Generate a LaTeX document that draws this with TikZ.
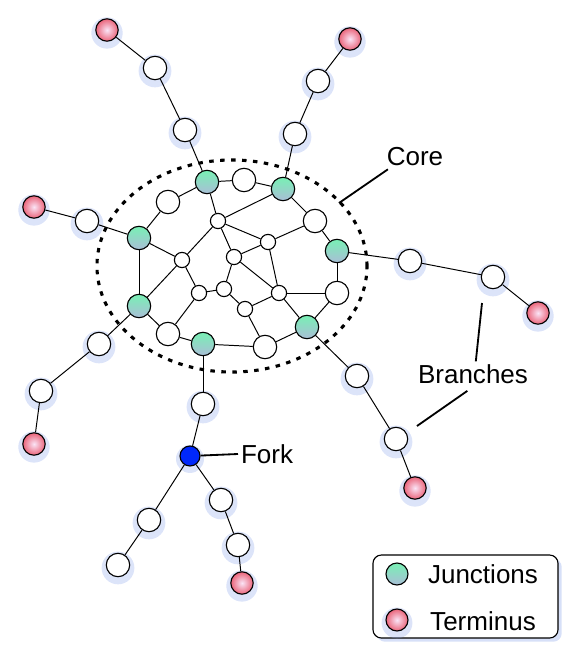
\documentclass[tikz,border=0pt]{standalone}
\usepackage{fontspec}
\setmainfont{Liberation Sans}
\usetikzlibrary{shadows}
\definecolor{junctop}{RGB}{120,240,180}
\definecolor{juncbot}{RGB}{170,190,215}
\definecolor{termin}{RGB}{250,228,246}
\definecolor{termout}{RGB}{234,100,122}
\definecolor{forkblue}{RGB}{0,40,250}
\definecolor{glowblue}{RGB}{140,165,235}

\tikzset{
  vertex/.style={circle, draw=black, line width=0.8pt, fill=white,
    minimum size=0.585cm, inner sep=0pt},
  smallvertex/.style={vertex, minimum size=0.38cm},
  glow/.style={general shadow={shadow scale=1.4, shadow yshift=-1.5pt,
    fill=glowblue, opacity=0.3}},
  junction/.style={vertex, top color=junctop, bottom color=juncbot},
  terminus/.style={vertex, minimum size=0.56cm, inner color=termin,
    outer color=termout, glow},
  branchnode/.style={vertex, glow},
  forknode/.style={vertex, minimum size=0.5cm, fill=forkblue, glow},
  link/.style={line width=0.7pt},
  pointer/.style={line width=1.3pt},
  coredots/.style={line width=2.2pt, dash pattern=on 3.2pt off 4.6pt},
  callout/.style={font=\fontsize{18.5}{22}\selectfont, inner sep=2pt},
  legendbox/.style={draw, line width=0.8pt, fill=white, rounded corners=6pt,
    minimum width=4.625cm, minimum height=2.075cm,
    drop shadow={opacity=0.35, fill=glowblue}}
}

\begin{document}
\begin{tikzpicture}[x=0.025cm, y=-0.025cm]
  \useasboundingbox (0,0) rectangle (581,667);

  % core: junctions
  \node[junction] (j1) at (207,182) {};
  \node[junction] (j2) at (283,189) {};
  \node[junction] (j3) at (139,238) {};
  \node[junction] (j4) at (337,251) {};
  \node[junction] (j5) at (139,306) {};
  \node[junction] (j6) at (307,327) {};
  \node[junction] (j7) at (203,344) {};

  % core: plain nodes
  \node[vertex] (w1) at (244,180) {};
  \node[vertex] (w2) at (168,202) {};
  \node[vertex] (w3) at (315,221) {};
  \node[vertex] (w4) at (337,293) {};
  \node[vertex] (w5) at (168,334) {};
  \node[vertex] (w6) at (265,347) {};

  \node[smallvertex] (s1) at (218,221) {};
  \node[smallvertex] (s2) at (268,242) {};
  \node[smallvertex] (s3) at (182,260) {};
  \node[smallvertex] (s4) at (234,257) {};
  \node[smallvertex] (s5) at (199,293) {};
  \node[smallvertex] (s6) at (224,289) {};
  \node[smallvertex] (s7) at (279,293) {};
  \node[smallvertex] (s8) at (245,309) {};

  % branches
  \node[terminus]   (tnw)  at (107,30)  {};
  \node[branchnode] (bnw1) at (155,68)  {};
  \node[branchnode] (bnw2) at (185,130) {};

  \node[terminus]   (tne)  at (350,39)  {};
  \node[branchnode] (bne1) at (318,81)  {};
  \node[branchnode] (bne2) at (295,134) {};

  \node[terminus]   (tw)   at (34,207)  {};
  \node[branchnode] (bw1)  at (87,221)  {};

  \node[branchnode] (be1)  at (410,261) {};
  \node[branchnode] (be2)  at (493,277) {};
  \node[terminus]   (te)   at (538,313) {};

  \node[branchnode] (bsw1) at (99,344)  {};
  \node[branchnode] (bsw2) at (41,391)  {};
  \node[terminus]   (tsw)  at (34,444)  {};

  \node[branchnode] (bse1) at (357,376) {};
  \node[branchnode] (bse2) at (396,439) {};
  \node[terminus]   (tse)  at (415,488) {};

  \node[branchnode] (bs1)  at (203,404) {};
  \node[forknode]   (fork) at (190,456) {};
  \node[branchnode] (bfl1) at (149,520) {};
  \node[branchnode] (bfl2) at (118,565) {};
  \node[branchnode] (bfr1) at (221,500) {};
  \node[branchnode] (bfr2) at (238,545) {};
  \node[terminus]   (tfr)  at (242,583) {};

  \foreach \a/\b in {j1/w1, w1/j2, j1/w2, w2/j3, j1/s1, j2/s1, j2/w3, w3/j4,
      s1/s2, s1/s3, s1/s4, w3/s2, s4/s2, j3/s3, j3/j5, s3/j5, s3/s5, s4/s6,
      s4/s7, s2/s7, s5/s6, s6/s8, s8/s7, s8/w6, s7/w4, s7/j6, j4/w4, w4/j6,
      j6/w6, w6/j7, j7/w5, w5/j5, w5/s5}
    \draw[link] (\a) -- (\b);

  \foreach \a/\b in {tnw/bnw1, bnw1/bnw2, bnw2/j1, tne/bne1, bne1/bne2, bne2/j2,
      tw/bw1, bw1/j3, j4/be1, be1/be2, be2/te, j5/bsw1, bsw1/bsw2, bsw2/tsw,
      j6/bse1, bse1/bse2, bse2/tse, j7/bs1, bs1/fork, fork/bfl1, bfl1/bfl2,
      fork/bfr1, bfr1/bfr2, bfr2/tfr}
    \draw[link] (\a) -- (\b);

  \draw[coredots] (232,266) ellipse [x radius=3.375cm, y radius=2.65cm];

  % labels
  \node[callout] (core) at (415,157) {Core};
  \coordinate (coretip) at (339,203);
  \draw[pointer] ([xshift=3pt]core.south west) -- (coretip);

  \node[callout] (branches) at (473,374) {Branches};
  \coordinate (brtipa) at (482,303);
  \coordinate (brtipb) at (417,426);
  \draw[pointer] ([xshift=2pt]branches.north) -- (brtipa);
  \draw[pointer] ([xshift=-4pt,yshift=-3pt]branches.south) -- (brtipb);

  \node[callout, anchor=west] (forklabel) at (238,454) {Fork};
  \draw[pointer] (fork) -- (forklabel.west);

  % legend
  \node[legendbox] (legend) at (465.5,596.5) {};
  \node[junction, minimum size=0.55cm] (keyj) at (397,574) {};
  \node[terminus, minimum size=0.55cm] (keyt) at (397,620) {};
  \node[callout] (keyjtext) at (483,574) {Junctions};
  \node[callout] (keyttext) at (483,621) {Terminus};
\end{tikzpicture}
\end{document}
